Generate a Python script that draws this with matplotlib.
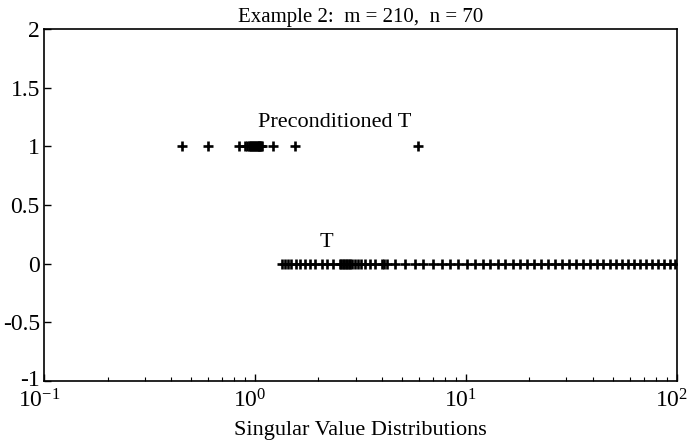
import matplotlib
matplotlib.use("Agg")
import matplotlib.pyplot as plt
import matplotlib.transforms as mtransforms
from matplotlib.ticker import LogLocator, NullFormatter

plt.rcParams['font.family'] = ['Liberation Serif', 'DejaVu Serif']
plt.rcParams['mathtext.fontset'] = 'custom'
plt.rcParams['mathtext.rm'] = 'Liberation Serif'
plt.rcParams['mathtext.it'] = 'Liberation Serif:italic'
plt.rcParams['mathtext.bf'] = 'Liberation Serif:bold'

title = "Example 2:  m = 210,  n = 70"
xlabel = "Singular Value Distributions"

precond_vals = [0.45, 0.60, 0.84, 0.90, 0.92, 0.94, 0.95, 0.96, 0.97, 0.98, 0.99,
                1.00, 1.01, 1.02, 1.03, 1.04, 1.05, 1.06, 1.07, 1.08,
                1.22, 1.55, 5.9]
t_vals = [1.34, 1.39, 1.43, 1.48, 1.56, 1.63, 1.73, 1.82, 1.92, 2.08, 2.19, 2.34,
          2.53, 2.57, 2.61, 2.65, 2.70, 2.74, 2.78, 2.82, 2.88, 2.98, 3.08, 3.18,
          3.32, 3.51, 3.70, 4.0, 4.09, 4.22, 4.61, 5.14, 5.73, 6.25, 6.98, 7.70,
          8.40, 9.16, 10.1, 11.0, 12.1, 13.0, 14.2, 15.3, 16.7, 18.0, 19.5, 21.0,
          22.7, 24.5, 26.4, 28.5, 30.8, 33.2, 35.9, 38.7, 41.8, 44.6, 48.1, 51.4,
          54.8, 58.6, 62.5, 66.8, 71.3, 76.2, 81.3, 86.7, 92.7, 97.9]
precond_y = 1
t_y = 0

yticks = [-1, -0.5, 0, 0.5, 1, 1.5, 2]
ytick_labels = ["-1", "-0.5", "0", "0.5", "1", "1.5", "2"]
xticks = [0.1, 1, 10, 100]
xtick_labels = [r"$\mathregular{10^{-1}}$", r"$\mathregular{10^{0}}$",
                r"$\mathregular{10^{1}}$", r"$\mathregular{10^{2}}$"]

fig = plt.figure(figsize=(6.9, 4.42), dpi=100)
ax = fig.add_axes([0.0638, 0.138, 0.917, 0.796])

ax.plot(precond_vals, [precond_y] * len(precond_vals), linestyle='none', marker='+',
        color='black', markersize=7, markeredgewidth=1.9)
ax.plot(t_vals, [t_y] * len(t_vals), linestyle='none', marker='+',
        color='black', markersize=7, markeredgewidth=1.9)

ax.set_xscale('log')
ax.set_xlim(0.1, 100)
ax.set_ylim(-1, 2)
ax.set_xticks(xticks)
ax.set_xticklabels(xtick_labels, fontsize=17)
ax.xaxis.set_minor_locator(LogLocator(base=10, subs=range(2, 10)))
ax.xaxis.set_minor_formatter(NullFormatter())
ax.set_yticks(yticks)
ax.set_yticklabels(ytick_labels, fontsize=17)
ax.tick_params(axis='both', which='major', direction='in', length=5, width=1, pad=3)
ax.tick_params(axis='x', which='major', pad=6)
ax.tick_params(axis='x', which='minor', direction='in', length=3, width=0.8)
for s in ax.spines.values():
    s.set_linewidth(1.2)

offset = mtransforms.ScaledTranslation(-5 / 100, 0, fig.dpi_scale_trans)
for lbl in ax.get_xticklabels():
    lbl.set_transform(lbl.get_transform() + offset)
up = mtransforms.ScaledTranslation(0, 3 / 100, fig.dpi_scale_trans)
ylbl0 = ax.get_yticklabels()[0]
ylbl0.set_transform(ylbl0.get_transform() + up)

ax.text(2.4, 1.2, "Preconditioned T", ha='center', va='center', fontsize=16)
ax.text(2.17, 0.18, "T", ha='center', va='center', fontsize=16)
ax.set_title(title, fontsize=15, pad=5)
ax.set_xlabel(xlabel, fontsize=16, labelpad=6)

fig.savefig("out.png", dpi=100)
